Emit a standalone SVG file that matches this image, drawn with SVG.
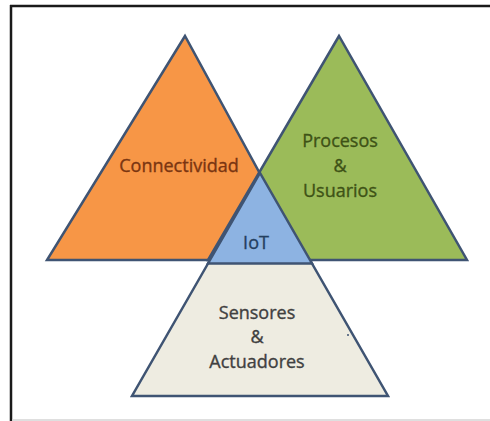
<svg xmlns="http://www.w3.org/2000/svg" width="490" height="421" viewBox="0 0 490 421">
  <style>
    .tri { stroke: #3F5473; stroke-width: 2.5; stroke-linejoin: miter; }
    .lbl { font-family: "Open Sans", "Liberation Sans", sans-serif; font-size: 18px; text-anchor: middle; stroke-width: 0.35; }
  </style>
  <rect x="0" y="0" width="490" height="421" fill="#ffffff"/>
  <!-- page frame: heavy left/top rules, light bottom rule -->
  <g id="frame">
    <line x1="11" y1="5" x2="11" y2="421" stroke="#1a1a1a" stroke-width="2.5"/>
    <line x1="10" y1="6" x2="490" y2="6" stroke="#1a1a1a" stroke-width="2.5"/>
    <line x1="12" y1="420" x2="490" y2="420" stroke="#d4d4d4" stroke-width="1.5"/>
  </g>
  <g id="sensores">
    <polygon class="tri" points="260,173 132,396 388,396" fill="#EEECE1"/>
    <text class="lbl" x="257" y="319" fill="#404040" stroke="#404040">Sensores</text>
    <text class="lbl" x="257" y="343" fill="#404040" stroke="#404040">&amp;</text>
    <text class="lbl" x="257" y="368" fill="#404040" stroke="#404040">Actuadores</text>
    <circle cx="348" cy="335" r="1" fill="#3F5473"/>
  </g>
  <g id="conectividad">
    <polygon class="tri" points="185,36 47,260 307,260" fill="#F79646"/>
    <text class="lbl" x="179" y="172" fill="#7A3511" stroke="#7A3511">Connectividad</text>
  </g>
  <g id="procesos">
    <polygon class="tri" points="339,36 208,260 467,260" fill="#9BBB59"/>
    <text class="lbl" x="340" y="147" fill="#3E5216" stroke="#3E5216">Procesos</text>
    <text class="lbl" x="340" y="172" fill="#3E5216" stroke="#3E5216">&amp;</text>
    <text class="lbl" x="340" y="197" fill="#3E5216" stroke="#3E5216">Usuarios</text>
  </g>
  <g id="iot">
    <polygon class="tri" points="260,173 208,263.5 312,263.5" fill="#8DB3E2"/>
    <text class="lbl" x="256" y="249" fill="#243F60" stroke="#243F60">IoT</text>
  </g>
  <g id="connectors"></g>
</svg>
